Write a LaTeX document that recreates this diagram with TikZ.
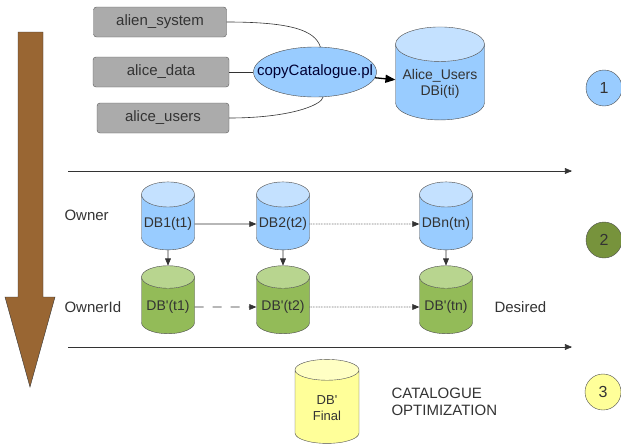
\documentclass[tikz,border=0pt]{standalone}
\usepackage{fontspec}
\setmainfont{Liberation Sans}
\usetikzlibrary{arrows,shapes.geometric,positioning}
\definecolor{dbblue}{HTML}{99CCFF}
\definecolor{dbbluetop}{HTML}{C4E1FF}
\definecolor{dbgreen}{HTML}{93BB58}
\definecolor{dbgreentop}{HTML}{B8D58F}
\definecolor{dbyellow}{HTML}{FFFF99}
\definecolor{dbyellowtop}{HTML}{FFFFC4}
\definecolor{srcgray}{HTML}{ABABAB}
\definecolor{phasegreen}{HTML}{77933C}
\definecolor{timebrown}{HTML}{996633}
\definecolor{txtgray}{HTML}{333333}
\newcommand{\qt}{\textquotesingle}

\begin{document}
\begin{tikzpicture}[x=1pt,y=-1pt,>=triangle 45,
  every node/.style={text=txtgray,font=\fontsize{15}{17}\selectfont},
  src/.style={draw=gray!70!black,fill=srcgray,rounded corners=3pt,minimum height=30pt,inner sep=0pt},
  db/.style={cylinder,shape border rotate=90,draw=gray!60!black,aspect=0.5,minimum width=53pt,minimum height=68pt,inner sep=1pt,cylinder uses custom fill,align=center,font=\fontsize{14}{16}\selectfont},
  bluedb/.style={db,cylinder body fill=dbblue,cylinder end fill=dbbluetop},
  greendb/.style={db,cylinder body fill=dbgreen,cylinder end fill=dbgreentop},
  phase/.style={circle,draw=gray!60!black,minimum size=36pt,inner sep=0pt,font=\fontsize{16}{18}\selectfont},
  link/.style={draw=black!80,line width=0.6pt}]
\useasboundingbox (0,0) rectangle (621,447);

% time arrow on the left
\draw [fill=timebrown,draw=black!80] (18,32) -- (43,32) -- (43,297) -- (55,297) -- (30,387) -- (5,297) -- (18,297) -- cycle;

% step 1: copy of the catalogue
\node [src,minimum width=133pt] (as) at (160,22) {alien\_system};
\node [src,minimum width=136pt] (ad) at (161,72) {alice\_data};
\node [src,minimum width=132pt] (au) at (163,118) {alice\_users};
\node [ellipse,draw=gray!60!black,fill=dbblue,minimum width=123pt,minimum height=50pt,inner sep=0pt,
       label={[text=black!80!blue]center:copyCatalogue.pl}] (cc) at (315,72) {};
\node [db,aspect=0.45,minimum width=89pt,minimum height=93pt,cylinder body fill=dbblue,cylinder end fill=dbbluetop] (ausers) at (440,84) {Alice\_Users\\DBi(ti)};
\draw [link] (as.east) .. controls (290,22) and (315,30) .. (cc.78);
\draw [link] (ad.east) -- (cc.west);
\draw [link] (au.east) .. controls (290,118) and (322,105) .. (cc.-72);
\draw [->,line width=1.3pt] (cc) -- (ausers);
\node [phase,fill=dbblue] (p1) at (604,88) {1};

\coordinate (la) at (68,171);
\coordinate (lb) at (572,171);
\draw [->,link] (la) -- (lb);

% step 2: Owner -> OwnerId
\node [anchor=west] (own) at (61,215) {Owner};
\node [anchor=west] (ownid) at (61,307) {OwnerId};
\node [bluedb] (db1) at (168,224) {DB1(t1)};
\node [bluedb] (db2) at (283,224) {DB2(t2)};
\node [bluedb] (dbn) at (446,224) {DBn(tn)};
\node [greendb] (dp1) at (168,307) {DB\qt(t1)};
\node [greendb] (dp2) at (283,307) {DB\qt(t2)};
\node [greendb] (dpn) at (446,307) {DB\qt(tn)};
\node [anchor=west] (des) at (491,307) {Desired};
\draw [->,link] (db1) -- (db2);
\draw [->,link,densely dotted] (db2) -- (dbn);
\draw [->,link,dash pattern=on 9pt off 9pt] (dp1) -- (dp2);
\draw [->,link,densely dotted] (dp2) -- (dpn);
\foreach \a/\b in {db1/dp1,db2/dp2,dbn/dpn}
  \draw [->,link] (\a) -- (\b);
\node [phase,fill=phasegreen] (p2) at (604,240) {2};

\coordinate (lc) at (68,347);
\coordinate (ld) at (572,347);
\draw [->,link] (lc) -- (ld);

% step 3: final catalogue
\node [db,aspect=0.69,minimum width=64pt,minimum height=84pt,cylinder body fill=dbyellow,cylinder end fill=dbyellowtop,font=\fontsize{13}{16}\selectfont] (dbf) at (327,408) {DB\qt\\Final};
\node [anchor=west,align=left] (opt) at (388,402) {CATALOGUE\\OPTIMIZATION};
\node [phase,fill=dbyellow] (p3) at (603,392) {3};
\end{tikzpicture}
\end{document}
